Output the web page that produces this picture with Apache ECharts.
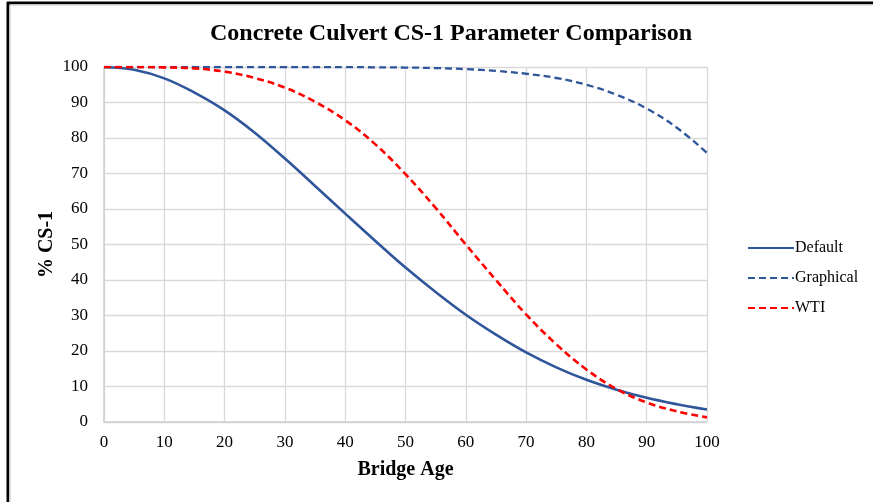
<!DOCTYPE html>
<html>
<head>
<meta charset="utf-8">
<style>
  html, body { margin: 0; padding: 0; background: #fff; }
  #chart { width: 873px; height: 502px; }
</style>
<script src="https://cdn.jsdelivr.net/npm/echarts@6/dist/echarts.min.js"></script>
</head>
<body>
<div id="chart"></div>
<script>
// Bridge age (years) at which each condition value is sampled
const ages = [0, 5, 10, 15, 20, 25, 30, 35, 40, 45, 50, 55, 60, 65, 70, 75, 80, 85, 90, 95, 100];

// Percentage of elements remaining in condition state CS-1
const defaultPct    = [100, 99.2, 96.8, 92.8, 87.8, 81.5, 74.2, 66.5, 58.7, 51.0, 43.5, 36.6, 30.2, 24.6, 19.6, 15.4, 11.9, 9.1, 6.8, 5.0, 3.5];
const graphicalPct  = [100, 100, 100, 100, 100, 100, 99.99, 99.98, 99.96, 99.92, 99.85, 99.7, 99.4, 98.9, 98.1, 96.9, 95.0, 92.2, 88.3, 82.9, 75.8];
const wtiPct        = [100, 100, 99.9, 99.6, 98.7, 96.9, 94.2, 90.2, 85.0, 78.2, 69.8, 60.3, 50.0, 40.0, 30.3, 21.9, 14.8, 9.3, 5.5, 3.0, 1.3];

const seriesNames = ['Default', 'Graphical', 'WTI'];

const pairs = (ys) => ages.map((a, i) => [a, ys[i]]);

const serif = 'Liberation Serif';
const chart = echarts.init(document.getElementById('chart'), null, { renderer: 'canvas' });

chart.setOption({
  backgroundColor: '#ffffff',
  animation: false,
  title: {
    text: 'Concrete Culvert CS-1 Parameter Comparison',
    left: 446,
    top: 17,
    textAlign: 'center',
    textStyle: { fontFamily: serif, fontWeight: 'bold', fontSize: 24, color: '#000' }
  },
  legend: {
    orient: 'vertical',
    left: 742,
    top: 235,
    itemWidth: 46,
    itemHeight: 14,
    itemGap: 14,
    itemStyle: { opacity: 0 },
    textStyle: { fontFamily: serif, fontSize: 16, color: '#000', padding: [0, 0, 0, -4] },
    data: seriesNames.map(n => ({ name: n }))
  },
  grid: { left: 104, right: 166, top: 67, bottom: 80 },
  xAxis: {
    type: 'value',
    min: 0, max: 100, interval: 10,
    name: 'Bridge Age',
    nameLocation: 'middle',
    nameGap: 38,
    nameTextStyle: { fontFamily: serif, fontWeight: 'bold', fontSize: 20, color: '#000' },
    axisLine: { show: true, lineStyle: { color: '#cfcfcf', width: 1.5 } },
    axisTick: { show: false },
    axisLabel: { fontFamily: serif, fontSize: 17, color: '#000', margin: 12 },
    splitLine: { show: true, lineStyle: { color: '#d9d9d9', width: 1.3 } }
  },
  yAxis: {
    type: 'value',
    min: 0, max: 100, interval: 10,
    name: '% CS-1',
    nameLocation: 'middle',
    nameGap: 47,
    nameMoveOverlap: false,
    nameTextStyle: { fontFamily: serif, fontWeight: 'bold', fontSize: 20, color: '#000' },
    axisLine: { show: true, lineStyle: { color: '#cfcfcf', width: 1.5 } },
    axisTick: { show: false },
    axisLabel: { fontFamily: serif, fontSize: 17, color: '#000', margin: 16 },
    splitLine: { show: true, lineStyle: { color: '#d9d9d9', width: 1.3 } }
  },
  series: [
    {
      name: 'Default', type: 'line', data: pairs(defaultPct), smooth: 0.4,
      symbol: 'none', z: 3,
      lineStyle: { color: '#2f559a', width: 2.6, type: 'solid' },
      itemStyle: { color: '#2f559a' }
    },
    {
      name: 'Graphical', type: 'line', data: pairs(graphicalPct), smooth: 0.4,
      symbol: 'none', z: 2,
      lineStyle: { color: '#2f559a', width: 2.3, type: [7, 4] },
      itemStyle: { color: '#2f559a' }
    },
    {
      name: 'WTI', type: 'line', data: pairs(wtiPct), smooth: 0.4,
      symbol: 'none', z: 4,
      lineStyle: { color: '#ff0000', width: 2.6, type: [7, 4] },
      itemStyle: { color: '#ff0000' }
    }
  ],
  graphic: [
    { type: 'line', shape: { x1: 7, y1: 3, x2: 873, y2: 3 }, style: { stroke: '#000', lineWidth: 3 }, silent: true },
    { type: 'line', shape: { x1: 8, y1: 2, x2: 8, y2: 502 }, style: { stroke: '#000', lineWidth: 3 }, silent: true },
    { type: 'line', shape: { x1: 10, y1: 5, x2: 873, y2: 5 }, style: { stroke: '#d8d8d8', lineWidth: 1.5 }, silent: true },
    { type: 'line', shape: { x1: 10, y1: 5, x2: 10, y2: 502 }, style: { stroke: '#d8d8d8', lineWidth: 1.5 }, silent: true }
  ]
});
</script>
</body>
</html>
